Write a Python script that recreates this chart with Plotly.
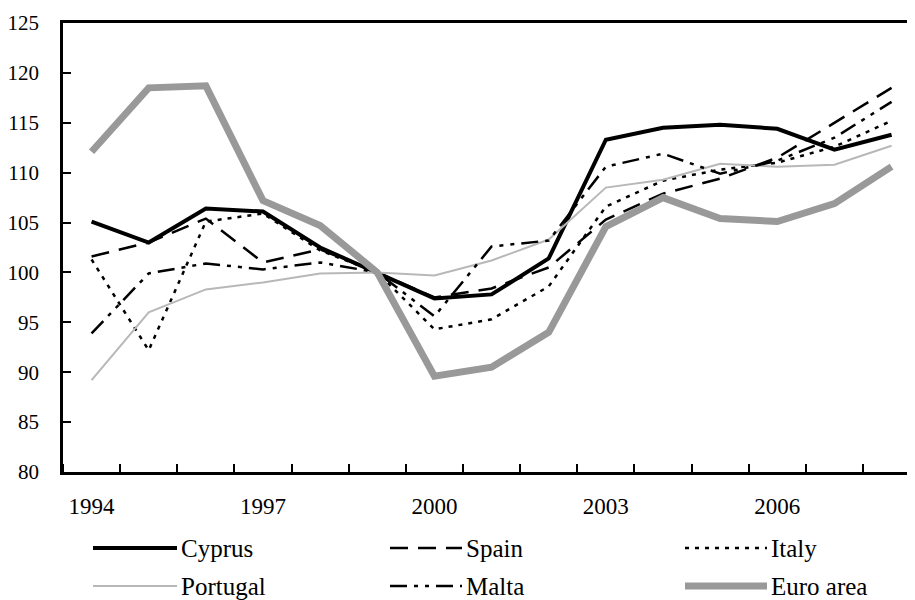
import plotly.graph_objects as go

years = list(range(1994, 2009))
cyprus = [105.1, 103.0, 106.4, 106.1, 102.5, 100.0, 97.4, 97.8, 101.4, 113.3, 114.5, 114.8, 114.4, 112.3, 113.8]
spain = [101.6, 103.0, 105.4, 101.0, 102.3, 100.0, 97.5, 98.4, 100.5, 105.3, 107.9, 109.4, 111.5, 115.0, 118.5]
italy = [101.3, 92.2, 105.1, 105.9, 102.2, 100.0, 94.3, 95.3, 98.6, 106.6, 109.2, 110.3, 111.0, 112.6, 115.2]
portugal = [89.2, 96.0, 98.3, 99.0, 99.9, 100.0, 99.7, 101.2, 103.3, 108.5, 109.3, 110.9, 110.6, 110.8, 112.7]
malta = [93.9, 99.9, 100.9, 100.3, 101.0, 100.0, 95.6, 102.6, 103.2, 110.6, 111.9, 109.9, 111.2, 113.5, 117.1]
euro_area = [112.1, 118.5, 118.7, 107.2, 104.7, 100.0, 89.6, 90.5, 94.0, 104.6, 107.5, 105.4, 105.1, 106.9, 110.6]

label_years = [1994, 1997, 2000, 2003, 2006]

# name, values, colour, width, dash
series = [
    ("Cyprus", cyprus, "black", 4, "solid"),
    ("Spain", spain, "black", 2.5, "18px,10px"),
    ("Italy", italy, "black", 2.5, "4px,6px"),
    ("Portugal", portugal, "#b8b8b8", 2, "solid"),
    ("Malta", malta, "black", 2.5, "17px,7px,4px,7px,4px,7px"),
    ("Euro area", euro_area, "#999999", 7, "solid"),
]

font = "Liberation Serif"

fig = go.Figure()
for name, vals, col, w, dash in series:
    fig.add_trace(go.Scatter(x=years, y=vals, name=name, mode="lines",
                             line=dict(color=col, width=w, dash=dash)))

# page has an 8px body margin, so the figure itself starts at (8, 8)
OFF = 8
L, T, W, H = 63, 23, 852, 449   # plot area in page pixels

def px(x):
    return (x - L) / W

def py(y):
    return (T + H - y) / H

# legend drawn by hand below the axis (long key lines, 3 columns x 2 rows)
key_cols = [(93, 177), (390, 462), (685, 767)]
key_rows = [548, 586]
for i, (name, vals, col, w, dash) in enumerate(series):
    x0, x1 = key_cols[i % 3]
    yy = key_rows[i // 3]
    fig.add_shape(type="line", xref="paper", yref="paper",
                  x0=px(x0), x1=px(x1), y0=py(yy), y1=py(yy),
                  line=dict(color=col, width=w, dash=dash))
    fig.add_annotation(xref="paper", yref="paper", x=px(x1 + 2), y=py(yy),
                       text=name, showarrow=False, xanchor="left", yanchor="middle",
                       font=dict(size=25))

fig.update_layout(
    width=915, height=600,
    margin=dict(l=L - OFF, r=915 - (L - OFF) - W, t=T - OFF, b=600 - (T - OFF) - H, autoexpand=False),
    plot_bgcolor="white", paper_bgcolor="white",
    font=dict(family=font, size=21, color="black"),
    showlegend=False,
)
fig.update_xaxes(
    range=[1993.5, 2008.41], showgrid=False, zeroline=False,
    showline=True, linecolor="black", linewidth=2.5, mirror=True,
    tickmode="array", tickvals=label_years, ticktext=[str(y) for y in label_years],
    ticks="", ticklabelstandoff=12, tickfont=dict(size=23),
    minor=dict(tick0=1994.5, dtick=1, ticks="inside", ticklen=8, tickwidth=2, tickcolor="black", showgrid=False),
)
fig.update_yaxes(
    range=[80, 125], dtick=5, showgrid=False, zeroline=False,
    showline=True, linecolor="black", linewidth=2.5,
    ticks="inside", ticklen=8, tickwidth=2, tickcolor="black", ticklabelstandoff=17,
)

fig.write_html("out.html")
